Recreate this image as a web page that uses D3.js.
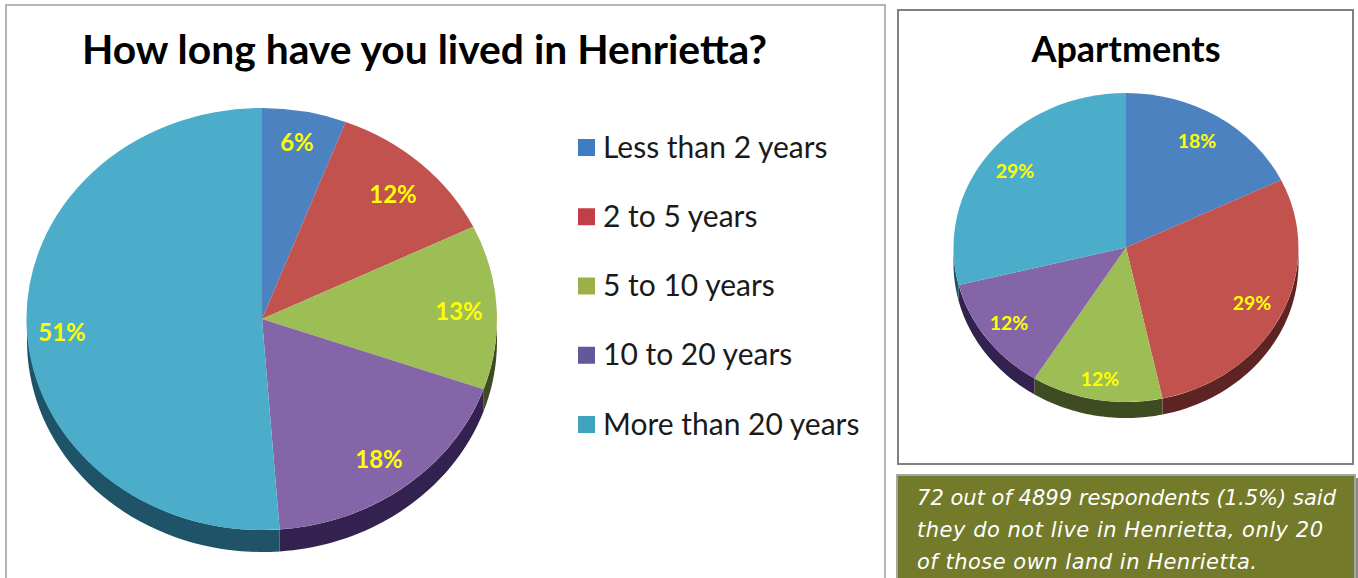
<!DOCTYPE html>
<html>
<head>
<meta charset="utf-8">
<script src="https://cdn.jsdelivr.net/npm/d3@7"></script>
<style>
  html, body { margin: 0; padding: 0; background: #fff; }
  svg { display: block; }
</style>
</head>
<body>
<svg id="chart" width="1358" height="578"></svg>
<script>
const durationCategories = ['Less than 2 years', '2 to 5 years', '5 to 10 years', '10 to 20 years', 'More than 20 years'];
// Estimated from the slice boundaries; the labels show these rounded
const henriettaValues = [5.8, 12, 12.6, 18.4, 51.2];
const apartmentValues = [17.8, 28.8, 12.3, 12.2, 28.9];
const noteLines = [
  '72 out of 4899 respondents (1.5%) said',
  'they do not live in Henrietta, only 20',
  'of those own land in Henrietta.',
];

const sliceColors = ['#4c82c0', '#c2524e', '#9dbd55', '#8465a8', '#4cadcb'];
const wallColors = ['#2a4a70', '#5e2423', '#3f4c22', '#33214f', '#1f5468'];
const legendColors = ['#3f7cc4', '#c23f48', '#9bb04a', '#62589a', '#3fa3bd'];
const LABEL_YELLOW = '#ffff00';
const NOTE_LINE_WIDTHS = [419, 406, 340];
const TAU = 2 * Math.PI;

const svg = d3.select('#chart');

// Panel frames
svg.append('rect')
  .attr('x', 6).attr('y', 5)
  .attr('width', 879).attr('height', 590)
  .attr('fill', '#fff').attr('stroke', '#b5b5b5').attr('stroke-width', 2);

svg.append('rect')
  .attr('x', 898).attr('y', 10)
  .attr('width', 455).attr('height', 454)
  .attr('fill', '#fff').attr('stroke', '#808080').attr('stroke-width', 2);

function drawPie({values, cx, cy, rx, ry, depth, labelPoints, fontSize}) {
  const arcs = d3.pie().sort(null).startAngle(0).endAngle(TAU)(values);
  const g = svg.append('g');

  // Only the front half of the ellipse has a visible side wall
  const wallPoint = (angle, dy) => [cx + rx * Math.sin(angle), cy - ry * Math.cos(angle) + dy];
  const wallPath = (d) => {
    const a0 = Math.max(d.startAngle, Math.PI / 2);
    const a1 = Math.min(d.endAngle, 3 * Math.PI / 2);
    if (a1 <= a0) return null;
    const steps = d3.range(0, 41).map((i) => a0 + (a1 - a0) * i / 40);
    return d3.line()([
      ...steps.map((a) => wallPoint(a, 0)),
      ...steps.reverse().map((a) => wallPoint(a, depth)),
    ]) + 'Z';
  };

  g.selectAll('path.wall')
    .data(arcs)
    .join('path')
      .attr('class', 'wall')
      .attr('d', wallPath)
      .attr('fill', (d) => wallColors[d.index]);

  // Top face: a unit pie squashed into an ellipse
  const unitArc = d3.arc().innerRadius(0).outerRadius(1);
  g.selectAll('path.slice')
    .data(arcs)
    .join('path')
      .attr('class', 'slice')
      .attr('d', unitArc)
      .attr('transform', `translate(${cx},${cy}) scale(${rx},${ry})`)
      .attr('fill', (d) => sliceColors[d.index]);

  g.selectAll('text')
    .data(arcs)
    .join('text')
      .attr('x', (d) => labelPoints[d.index][0])
      .attr('y', (d) => labelPoints[d.index][1])
      .attr('text-anchor', 'middle')
      .attr('dominant-baseline', 'central')
      .attr('font-family', 'Lato, sans-serif')
      .attr('font-weight', 700)
      .attr('font-size', fontSize)
      .attr('fill', LABEL_YELLOW)
      .text((d) => `${Math.round(d.data)}%`);
}

drawPie({
  values: henriettaValues,
  cx: 262, cy: 319, rx: 235, ry: 211, depth: 22,
  labelPoints: [[297, 141], [393, 193], [459, 310], [379, 458], [62, 331]],
  fontSize: 24,
});

drawPie({
  values: apartmentValues,
  cx: 1126, cy: 247.5, rx: 172.5, ry: 154.5, depth: 16,
  labelPoints: [[1197, 140], [1252, 302], [1100, 378], [1009, 322], [1015, 170]],
  fontSize: 19.5,
});

// Titles
svg.append('text')
  .attr('x', 424.5).attr('y', 64)
  .attr('text-anchor', 'middle')
  .attr('font-family', 'Lato, sans-serif')
  .attr('font-weight', 700)
  .attr('font-size', 40.8)
  .attr('fill', '#000')
  .text('How long have you lived in Henrietta?');

svg.append('text')
  .attr('x', 1126).attr('y', 62)
  .attr('text-anchor', 'middle')
  .attr('font-family', 'Lato, sans-serif')
  .attr('font-weight', 700)
  .attr('font-size', 36)
  .attr('fill', '#000')
  .text('Apartments');

// Legend
const legendY = d3.scalePoint().domain(durationCategories).range([147, 424]);
const legend = svg.append('g').selectAll('g')
  .data(durationCategories)
  .join('g')
    .attr('transform', (d) => `translate(578,${legendY(d)})`);

legend.append('rect')
  .attr('y', -8)
  .attr('width', 17).attr('height', 17)
  .attr('fill', (d, i) => legendColors[i]);

legend.append('text')
  .attr('x', 25)
  .attr('dy', '0.35em')
  .attr('font-family', 'Lato, sans-serif')
  .attr('font-size', 30)
  .attr('fill', '#1a1a1a')
  .text((d) => d);

// Note box, with the grey shadow strip down its right side
svg.append('rect')
  .attr('x', 1355).attr('y', 478)
  .attr('width', 3).attr('height', 100)
  .attr('fill', '#8a8a8a');

svg.append('rect')
  .attr('x', 897).attr('y', 475)
  .attr('width', 458).attr('height', 110)
  .attr('fill', '#737a2a').attr('stroke', '#a6a6a6').attr('stroke-width', 2);

svg.append('g').selectAll('text')
  .data(noteLines)
  .join('text')
    .attr('x', 917)
    .attr('y', (d, i) => 505 + i * 32)
    .attr('font-family', '"DejaVu Sans", sans-serif')
    .attr('font-style', 'italic')
    .attr('font-size', 21)
    .attr('textLength', (d, i) => NOTE_LINE_WIDTHS[i])
    .attr('lengthAdjust', 'spacing')
    .attr('fill', '#fff')
    .text((d) => d);
</script>
</body>
</html>
